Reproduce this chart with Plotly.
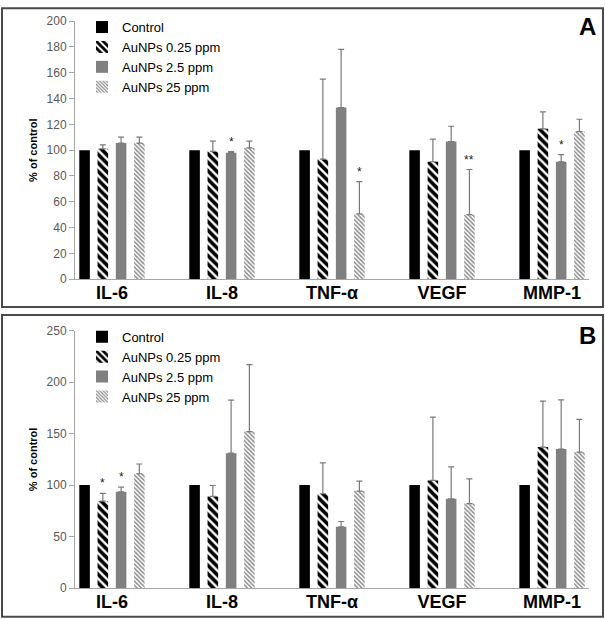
import plotly.graph_objects as go
from plotly.subplots import make_subplots

categories = ["IL-6", "IL-8", "TNF-α", "VEGF", "MMP-1"]
series_names = ["Control", "AuNPs 0.25 ppm", "AuNPs 2.5 ppm", "AuNPs 25 ppm"]

# Panel A values (% of control) and upper error bars
A_control = [100, 100, 100, 100, 100]
A_025 = [101, 99, 93, 91, 116.5]
A_025_err = [3, 8, 62, 17.6, 13.2]
A_2_5 = [105.5, 98, 133, 106.7, 91]
A_2_5_err = [4.5, 0.8, 45, 11.8, 5.5]
A_25 = [105.5, 101.7, 50.6, 50, 114.4]
A_25_err = [4.5, 5.3, 25, 35, 9.5]

# Panel B values (% of control) and upper error bars
B_control = [100, 100, 100, 100, 100]
B_025 = [84.5, 89, 91.6, 104.5, 136.9]
B_025_err = [7.5, 10.6, 29.9, 61.5, 44.7]
B_2_5 = [93.5, 131, 59.5, 86.7, 135]
B_2_5_err = [4.5, 51.5, 5.1, 30.9, 47.8]
B_25 = [111, 152, 94.2, 82, 132]
B_25_err = [9.5, 65, 9.6, 24, 31.8]

# significance marks: (category index, series index, text)
A_sig = [(1, 2, "*"), (2, 3, "*"), (3, 3, "**"), (4, 2, "*")]
B_sig = [(0, 1, "*"), (0, 2, "*")]

A_ticks = [0, 20, 40, 60, 80, 100, 120, 140, 160, 180, 200]
B_ticks = [0, 50, 100, 150, 200, 250]

PITCH = 0.166
BW = 0.096

styles = [
    dict(color="black"),
    dict(color="white", pattern=dict(shape="\\", fgcolor="black", bgcolor="white", size=6,
                                     solidity=0.6, fgopacity=1)),
    dict(color="#808080"),
    dict(color="white", pattern=dict(shape="\\", fgcolor="#8c8c8c", bgcolor="white", size=3,
                                     solidity=0.5, fgopacity=1)),
]

fig = make_subplots(rows=2, cols=1)

panels = [
    (1, "legend", [A_control, A_025, A_2_5, A_25], [None, A_025_err, A_2_5_err, A_25_err]),
    (2, "legend2", [B_control, B_025, B_2_5, B_25], [None, B_025_err, B_2_5_err, B_25_err]),
]

for row, leg, vals, errs in panels:
    for k, (name, v, e) in enumerate(zip(series_names, vals, errs)):
        kw = {}
        if e is not None:
            kw["error_y"] = dict(type="data", array=e, arrayminus=[0] * len(e), symmetric=False,
                                 color="#7a7a7a", thickness=1.2, width=3)
        fig.add_trace(go.Bar(
            x=categories, y=v, name=name, legend=leg,
            width=BW, offset=(k - 1.5) * PITCH - BW / 2,
            marker=dict(**styles[k], line=dict(width=0)),
            **kw), row=row, col=1)

def add_sig(sig, vals, errs, xref, yref):
    for ci, si, txt in sig:
        top = vals[si][ci] + (errs[si][ci] if errs[si] is not None else 0)
        fig.add_annotation(x=ci + (si - 1.5) * PITCH, y=top, xref=xref, yref=yref,
                           text=txt, showarrow=False, yanchor="bottom", yshift=1,
                           font=dict(size=12, color="#222", family="Arial"))

add_sig(A_sig, panels[0][2], panels[0][3], "x", "y")
add_sig(B_sig, panels[1][2], panels[1][3], "x2", "y2")

W, H = 605, 619
ml, mr, mt, mb = 75, 16, 15, 31
pw = W - ml - mr
ph = H - mt - mb

def px_to_paper_x(px):
    return (px - ml) / pw

def px_to_paper_y(py):
    return (H - mb - py) / ph

yA_bot, yA_top = px_to_paper_y(276), 1.0
yB_bot, yB_top = 0.0, px_to_paper_y(328)

xaxis_common = dict(range=[-0.336, 4.336], showline=True, linecolor="#a6a6a6", linewidth=1,
                    ticks="", showgrid=False, zeroline=False, automargin=False,
                    ticklabelstandoff=-3,
                    tickfont=dict(size=18, family="Arial", color="black", weight="bold"))
yaxis_common = dict(showline=True, linecolor="#a6a6a6", linewidth=1, ticks="outside",
                    ticklen=5, tickcolor="#a6a6a6", showgrid=False, zeroline=False, automargin=False,
                    tickfont=dict(size=12, family="Arial", color="#595959"),
                    title=dict(text="% of control", standoff=6,
                               font=dict(size=11, family="Arial", color="black", weight="bold")))

fig.update_layout(
    template="none",
    width=W, height=H,
    margin=dict(l=ml, r=mr, t=mt, b=mb, pad=0),
    plot_bgcolor="white", paper_bgcolor="white",
    barmode="overlay",
    font=dict(family="Arial"),
    xaxis=dict(**xaxis_common, anchor="y", domain=[0, 1]),
    xaxis2=dict(**xaxis_common, anchor="y2", domain=[0, 1]),
    yaxis=dict(**yaxis_common, range=[0, 200], tickvals=A_ticks, domain=[yA_bot, yA_top]),
    yaxis2=dict(**yaxis_common, range=[0, 250], tickvals=B_ticks, domain=[yB_bot, yB_top]),
    legend=dict(x=px_to_paper_x(82), y=px_to_paper_y(6), xanchor="left", yanchor="top",
                bgcolor="rgba(0,0,0,0)", font=dict(size=13, family="Arial", color="black"),
                tracegroupgap=0),
    legend2=dict(x=px_to_paper_x(82), y=px_to_paper_y(319), xanchor="left", yanchor="top",
                 bgcolor="rgba(0,0,0,0)", font=dict(size=13, family="Arial", color="black"),
                 tracegroupgap=0),
    showlegend=True,
)

# Panel letters
fig.add_annotation(text="A", x=px_to_paper_x(598), y=px_to_paper_y(21), xref="paper", yref="paper",
                   showarrow=False, xanchor="right", yanchor="middle",
                   font=dict(size=24, family="Arial", color="black", weight="bold"))
fig.add_annotation(text="B", x=px_to_paper_x(598), y=px_to_paper_y(333), xref="paper", yref="paper",
                   showarrow=False, xanchor="right", yanchor="middle",
                   font=dict(size=24, family="Arial", color="black", weight="bold"))

# Panel frames
for (x0, y0, x1, y1) in [(2, 2, 603, 304), (2, 312, 603, 617)]:
    fig.add_shape(type="rect", xref="paper", yref="paper",
                  x0=px_to_paper_x(x0), x1=px_to_paper_x(x1),
                  y0=px_to_paper_y(y1), y1=px_to_paper_y(y0),
                  line=dict(color="#4a4a4a", width=2), fillcolor="rgba(0,0,0,0)", layer="below")

fig.write_html("out.html", config={"displayModeBar": False},
               post_script="document.body.style.margin='0';document.body.style.overflow='hidden';")
